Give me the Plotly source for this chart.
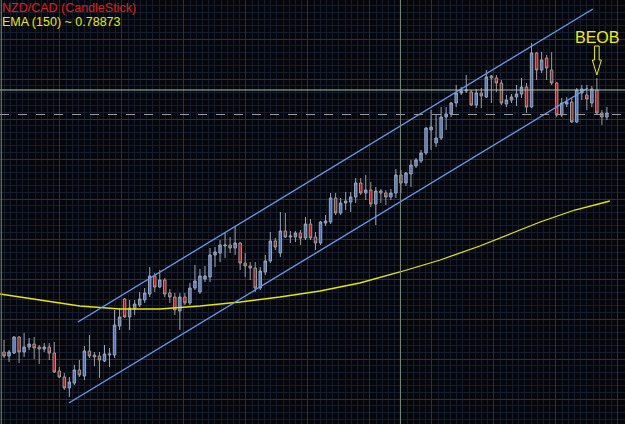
import plotly.graph_objects as go

# ---------------- data (NZD/CAD candles) ----------------
opens = [0.7735,0.7731,0.7734,0.7750,0.7735,0.7740,0.7743,0.7740,0.7738,0.7740,
         0.7734,0.7716,0.7710,0.7699,0.7704,0.7717,0.7711,0.7736,0.7732,0.7731,
         0.7726,0.7732,0.7732,0.7761,0.7788,0.7770,0.7778,0.7782,0.7787,0.7793,
         0.7811,0.7800,0.7807,0.7794,0.7790,0.7776,0.7790,0.7784,0.7799,0.7795,
         0.7808,0.7810,0.7832,0.7834,0.7841,0.7842,0.7839,0.7844,0.7824,0.7821,
         0.7819,0.7799,0.7815,0.7826,0.7846,0.7834,0.7856,0.7850,0.7850,0.7854,
         0.7849,0.7863,0.7850,0.7844,0.7864,0.7865,0.7889,0.7874,0.7884,0.7885,
         0.7890,0.7904,0.7894,0.7897,0.7883,0.7896,0.7894,0.7890,0.7894,0.7912,
         0.7904,0.7913,0.7921,0.7926,0.7934,0.7957,0.7944,0.7949,0.7970,0.7973,
         0.7984,0.7994,0.7996,0.7995,0.7982,0.7994,0.7990,0.8011,0.8009,0.8004,
         0.7983,0.7987,0.7990,0.7993,0.8000,0.7980,0.8034,0.8017,0.8029,0.8017,
         0.8004,0.7972,0.7983,0.7985,0.7965,0.7994,0.7992,0.7984,0.7997,0.7974,
         0.7970]
highs = [0.7747,0.7737,0.7751,0.7751,0.7754,0.7749,0.7750,0.7742,0.7744,0.7744,
         0.7745,0.7720,0.7714,0.7710,0.7722,0.7727,0.7741,0.7752,0.7735,0.7735,
         0.7742,0.7739,0.7777,0.7779,0.7789,0.7787,0.7787,0.7795,0.7799,0.7820,
         0.7814,0.7817,0.7809,0.7798,0.7794,0.7794,0.7794,0.7804,0.7822,0.7818,
         0.7821,0.7839,0.7840,0.7847,0.7854,0.7850,0.7860,0.7845,0.7834,0.7825,
         0.7825,0.7820,0.7832,0.7855,0.7849,0.7875,0.7874,0.7856,0.7856,0.7857,
         0.7870,0.7868,0.7855,0.7866,0.7872,0.7894,0.7894,0.7889,0.7895,0.7895,
         0.7909,0.7909,0.7912,0.7905,0.7900,0.7898,0.7897,0.7898,0.7918,0.7917,
         0.7915,0.7927,0.7929,0.7937,0.7960,0.7977,0.7972,0.7980,0.7980,0.7985,
         0.8002,0.8000,0.8012,0.7997,0.7998,0.7999,0.8017,0.8012,0.8012,0.8007,
         0.7992,0.7993,0.8002,0.8009,0.8004,0.8044,0.8035,0.8035,0.8032,0.8035,
         0.8005,0.7989,0.7990,0.7989,0.7999,0.8002,0.8002,0.8001,0.8009,0.7977,
         0.7980]
lows = [0.7729,0.7725,0.7733,0.7724,0.7730,0.7737,0.7728,0.7723,0.7735,0.7727,
        0.7714,0.7709,0.7697,0.7690,0.7702,0.7710,0.7707,0.7729,0.7721,0.7709,
        0.7725,0.7720,0.7729,0.7757,0.7769,0.7757,0.7772,0.7780,0.7784,0.7790,
        0.7795,0.7799,0.7790,0.7784,0.7772,0.7757,0.7782,0.7782,0.7797,0.7793,
        0.7805,0.7805,0.7820,0.7825,0.7829,0.7834,0.7832,0.7817,0.7810,0.7807,
        0.7795,0.7797,0.7812,0.7824,0.7837,0.7830,0.7849,0.7844,0.7845,0.7842,
        0.7847,0.7847,0.7837,0.7842,0.7861,0.7863,0.7872,0.7872,0.7877,0.7875,
        0.7884,0.7892,0.7887,0.7880,0.7862,0.7884,0.7882,0.7887,0.7889,0.7894,
        0.7901,0.7900,0.7919,0.7924,0.7932,0.7937,0.7940,0.7947,0.7957,0.7970,
        0.7980,0.7992,0.7994,0.7981,0.7979,0.7979,0.7989,0.7984,0.7995,0.7982,
        0.7980,0.7984,0.7981,0.7989,0.7974,0.7979,0.8007,0.8014,0.8007,0.8002,
        0.7970,0.7970,0.7980,0.7964,0.7964,0.7987,0.7977,0.7980,0.7972,0.7962,
        0.7967]
closes = [0.7731,0.7735,0.7750,0.7735,0.7740,0.7743,0.7739,0.7738,0.7740,0.7734,
          0.7715,0.7710,0.7699,0.7705,0.7717,0.7712,0.7736,0.7731,0.7730,0.7727,
          0.7733,0.7733,0.7762,0.7770,0.7770,0.7779,0.7783,0.7788,0.7794,0.7811,
          0.7800,0.7807,0.7793,0.7790,0.7777,0.7790,0.7784,0.7799,0.7806,0.7811,
          0.7811,0.7832,0.7835,0.7842,0.7842,0.7839,0.7844,0.7824,0.7821,0.7819,
          0.7799,0.7816,0.7826,0.7846,0.7840,0.7856,0.7850,0.7851,0.7854,0.7849,
          0.7863,0.7849,0.7844,0.7865,0.7866,0.7889,0.7874,0.7884,0.7886,0.7890,
          0.7904,0.7894,0.7897,0.7883,0.7896,0.7894,0.7890,0.7894,0.7912,0.7904,
          0.7914,0.7922,0.7927,0.7934,0.7959,0.7960,0.7949,0.7970,0.7973,0.7984,
          0.7994,0.7996,0.7997,0.7982,0.7994,0.7991,0.8010,0.8009,0.8004,0.7984,
          0.7987,0.7990,0.7993,0.8000,0.7980,0.8034,0.8017,0.8027,0.8019,0.8004,
          0.7972,0.7984,0.7985,0.7965,0.7997,0.7998,0.7988,0.7998,0.7974,0.7970,
          0.7974]
bars = list(range(len(opens)))

# EMA(150) read at bar positions along the curve
ema_x = [-0.8, 7.2, 15.1, 23.1, 31.0, 39.0, 47.0, 54.9, 62.9, 70.8, 78.8,
         86.8, 94.7, 100.7, 106.7, 113.6, 120.6]
ema_y = [0.7793, 0.7787, 0.7781, 0.7778, 0.7778, 0.7781, 0.7785, 0.7790, 0.7796,
         0.7804, 0.7815, 0.7827, 0.7841, 0.7853, 0.7865, 0.7877, 0.7886]

# channel trend lines (bar, price)
upper_x = [14.7, 117.2]
upper_y = [0.7765, 0.8078]
lower_x = [12.9, 116.2]
lower_y = [0.7684, 0.7999]

level_solid = 0.7997     # horizontal line
level_bid = 0.79725      # dashed price line
cross_bar = 78.9         # vertical line
beob_bar = 118           # BEOB marked candle

title_text = "NZD/CAD (CandleStick)"
ema_text = "EMA (150) ~ 0.78873"
beob_text = "BEOB"

# ---------------- figure ----------------
Y_TOP = 0.8087
Y_BOT = 0.7663

fig = go.Figure()
fig.add_trace(go.Candlestick(
    x=bars, open=opens, high=highs, low=lows, close=closes,
    increasing=dict(fillcolor="#4f76bb", line=dict(color="#9aa6ba", width=1)),
    decreasing=dict(fillcolor="#b3191c", line=dict(color="#9b9b9b", width=1)),
    whiskerwidth=0, showlegend=False, hoverinfo="skip"))

fig.add_trace(go.Scatter(x=ema_x, y=ema_y, mode="lines",
                         line=dict(color="#e6e600", width=1.3),
                         showlegend=False, hoverinfo="skip"))
fig.add_trace(go.Scatter(x=upper_x, y=upper_y, mode="lines",
                         line=dict(color="#6a9cf0", width=1.3),
                         showlegend=False, hoverinfo="skip"))
fig.add_trace(go.Scatter(x=lower_x, y=lower_y, mode="lines",
                         line=dict(color="#6a9cf0", width=1.3),
                         showlegend=False, hoverinfo="skip"))

shapes = [
    dict(type="line", xref="paper", x0=0, x1=1, yref="y", y0=level_solid, y1=level_solid,
         line=dict(color="#aebcaa", width=1)),
    dict(type="line", xref="paper", x0=0, x1=1, yref="y", y0=level_bid, y1=level_bid,
         line=dict(color="#9a9a9a", width=1, dash="dash")),
    dict(type="line", xref="x", x0=cross_bar, x1=cross_bar, yref="paper", y0=0, y1=1,
         line=dict(color="#7f8f7f", width=1)),
    dict(type="line", xref="paper", x0=0.002, x1=0.002, yref="paper", y0=0, y1=1,
         line=dict(color="#7f8f7f", width=1)),
]

# hollow arrow above the BEOB candle
hb = highs[beob_bar]
tip = hb + 0.0003
neck = hb + 0.0018
top = hb + 0.0032
xc = beob_bar
path = (f"M {xc-0.45},{top} L {xc+0.45},{top} L {xc+0.45},{neck} L {xc+0.9},{neck} "
        f"L {xc},{tip} L {xc-0.9},{neck} L {xc-0.45},{neck} Z")
shapes.append(dict(type="path", xref="x", yref="y", path=path,
                   line=dict(color="#f0f000", width=1)))

annotations = [
    dict(xref="paper", yref="paper", x=0.0, y=1.0, xanchor="left", yanchor="top",
         text=title_text, showarrow=False, xshift=1, yshift=0, borderpad=0,
         font=dict(family="Liberation Sans, Arial", size=12.5, color="#e01c1c")),
    dict(xref="paper", yref="paper", x=0.0, y=1.0, xanchor="left", yanchor="top",
         text=ema_text, showarrow=False, xshift=1, yshift=-14, borderpad=0,
         font=dict(family="Liberation Sans, Arial", size=12.5, color="#e8e800")),
    dict(xref="x", yref="y", x=xc, y=top, xanchor="center", yanchor="bottom",
         text=beob_text, showarrow=False, yshift=-2,
         font=dict(family="Liberation Sans, Arial", size=16, color="#f0f000")),
]

fig.update_layout(
    width=625, height=424,
    margin=dict(l=0, r=0, t=0, b=0),
    paper_bgcolor="#05070c", plot_bgcolor="#05070c",
    shapes=shapes, annotations=annotations,
    xaxis=dict(range=[-0.8, 123.6], rangeslider=dict(visible=False),
               showticklabels=False, zeroline=False, showline=False,
               showgrid=True, gridcolor="#26304a", gridwidth=1,
               tick0=11.14, dtick=12.34,
               minor=dict(showgrid=True, tick0=11.14, dtick=1.234,
                          gridcolor="#151c2b", gridwidth=1)),
    yaxis=dict(range=[Y_BOT, Y_TOP], showticklabels=False, zeroline=False,
               showline=False, showgrid=True, gridcolor="#26304a", gridwidth=1,
               tick0=0.7728, dtick=0.004,
               minor=dict(showgrid=True, tick0=0.7728, dtick=0.004 / 6,
                          gridcolor="#151c2b", gridwidth=1)),
)

fig.write_html("out.html")
